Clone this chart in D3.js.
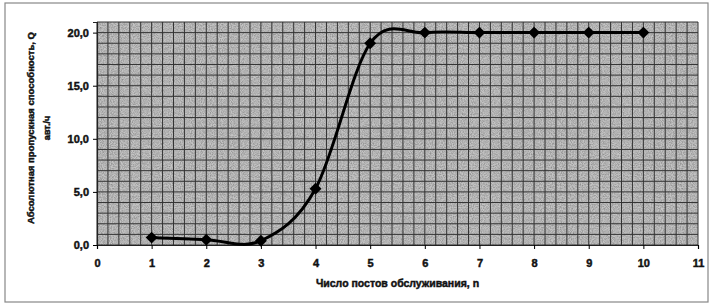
<!DOCTYPE html>
<html>
<head>
<meta charset="utf-8">
<script src="https://cdn.jsdelivr.net/npm/d3@7"></script>
<style>
  body { margin: 0; background: #fff; }
</style>
</head>
<body>
<div id="chart"></div>
<script>
// data
var posts = [1, 2, 3, 4, 5, 6, 7, 8, 9, 10];
var capacity = [0.7, 0.5, 0.4, 5.3, 19.0, 20.0, 20.0, 20.0, 20.0, 20.0];
var xTicks = [0, 1, 2, 3, 4, 5, 6, 7, 8, 9, 10, 11];
var yTicks = [0, 5, 10, 15, 20];

var width = 713, height = 308;
var margin = { top: 22, right: 15, bottom: 63, left: 97 };
var font = "'Liberation Sans', Arial, sans-serif";

// heavy scanned-print look for all text
function heavy(sel, size) {
   sel.style("font-family", font)
      .style("font-weight", "bold")
      .style("font-size", size)
      .attr("fill", "#111")
      .attr("stroke", "#111")
      .attr("stroke-width", 0.45);
}

var svg = d3.select("#chart").append("svg")
   .attr("width", width)
   .attr("height", height);

// scanned-paper noise
var defs = svg.append("defs");
var f = defs.append("filter").attr("id", "noise")
   .attr("x", 0).attr("y", 0).attr("width", "100%").attr("height", "100%");
f.append("feTurbulence").attr("type", "fractalNoise")
   .attr("baseFrequency", 0.9).attr("numOctaves", 2).attr("seed", 3);
f.append("feColorMatrix").attr("type", "matrix")
   .attr("values", "0 0 0 0 0  0 0 0 0 0  0 0 0 0 0  0 0 0 -1.6 1.1");
f.append("feComposite").attr("in2", "SourceGraphic").attr("operator", "in");

// outer frame
svg.append("rect")
   .attr("x", 5).attr("y", 3)
   .attr("width", 703).attr("height", 299)
   .attr("fill", "none")
   .attr("stroke", "#888")
   .attr("stroke-width", 1.2);

var w = width - margin.left - margin.right,
   h = height - margin.top - margin.bottom;

var g = svg.append("g")
   .attr("transform", "translate(" + margin.left + "," + margin.top + ")");

var x = d3.scaleLinear().domain([0, 11]).range([0, w]);
var y = d3.scaleLinear().domain([0, 21]).range([h, 0]);

// plot background
g.append("rect")
   .attr("width", w).attr("height", h)
   .attr("fill", "#c4c4c4");
g.append("rect")
   .attr("width", w).attr("height", h)
   .attr("fill", "#000")
   .attr("opacity", 0.3)
   .attr("filter", "url(#noise)");

// grid
g.append("g").selectAll("line")
   .data(d3.range(0, 11.01, 0.2))
   .enter().append("line")
   .attr("x1", function (d) { return x(d); })
   .attr("x2", function (d) { return x(d); })
   .attr("y1", 0).attr("y2", h)
   .attr("stroke", "#333")
   .attr("stroke-width", 1);

g.append("g").selectAll("line")
   .data(d3.range(0, 21.01, 1))
   .enter().append("line")
   .attr("x1", 0).attr("x2", w)
   .attr("y1", function (d) { return y(d); })
   .attr("y2", function (d) { return y(d); })
   .attr("stroke", "#333")
   .attr("stroke-width", 1);

// axes
var fmt = function (d) { return d3.format(".1f")(d).replace(".", ","); };

var yAxis = g.append("g")
   .call(d3.axisLeft(y).tickValues(yTicks).tickFormat(fmt).tickSize(4).tickPadding(4));
yAxis.select(".domain").attr("stroke", "#222").attr("stroke-width", 1.2);
heavy(yAxis.selectAll("text"), "11px");

var xAxis = g.append("g")
   .attr("transform", "translate(0," + h + ")")
   .call(d3.axisBottom(x).tickValues(xTicks).tickSize(4).tickPadding(10));
xAxis.select(".domain").attr("stroke", "#222").attr("stroke-width", 1.2);
heavy(xAxis.selectAll("text"), "11px");

// axis titles
heavy(svg.append("text")
   .attr("x", margin.left + w / 2)
   .attr("y", 287)
   .attr("text-anchor", "middle")
   .text("Число постов обслуживания, n"), "10.5px");

var yt = svg.append("text")
   .attr("transform", "translate(34,128) rotate(-90)")
   .attr("text-anchor", "middle");
heavy(yt, "9.5px");
yt.append("tspan").attr("x", 0).attr("dy", 0)
   .text("Абсолютная пропускная способность, Q");
yt.append("tspan").attr("x", 0).attr("dy", 16)
   .style("font-size", "9px")
   .text("авт./ч");

// line
var pts = posts.map(function (d, i) { return [d, capacity[i]]; });

g.append("path")
   .datum(pts)
   .attr("fill", "none")
   .attr("stroke", "#000")
   .attr("stroke-width", 3)
   .attr("d", d3.line()
      .x(function (d) { return x(d[0]); })
      .y(function (d) { return y(d[1]); })
      .curve(d3.curveCardinal.tension(0)));

g.selectAll(".mark")
   .data(pts)
   .enter().append("path")
   .attr("class", "mark")
   .attr("transform", function (d) { return "translate(" + x(d[0]) + "," + y(d[1]) + ")"; })
   .attr("d", d3.symbol().type(d3.symbolDiamond2).size(90))
   .attr("fill", "#000");
</script>
</body>
</html>
